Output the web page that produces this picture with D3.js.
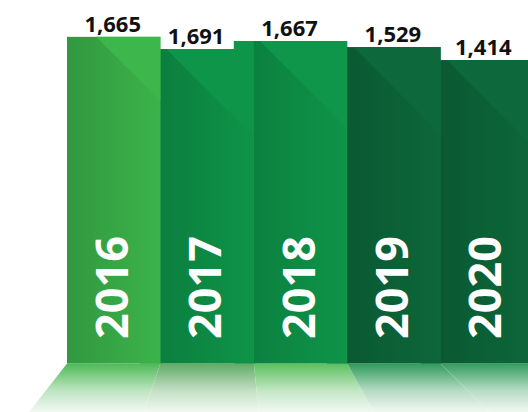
<!DOCTYPE html>
<html>
<head>
<meta charset="utf-8">
<script src="https://cdn.jsdelivr.net/npm/d3@7"></script>
<style>
  html, body { margin: 0; padding: 0; background: #ffffff; }
  svg { display: block; }
</style>
</head>
<body>
<svg id="chart" width="528" height="412"></svg>
<script>
// ---- data ----
const years = ["2016", "2017", "2018", "2019", "2020"];
const values = [1665, 1691, 1667, 1529, 1414];
const valueLabels = ["1,665", "1,691", "1,667", "1,529", "1,414"];
// drawn bar levels (the infographic's bars are not to scale with their labels)
const barLevels = [1665, 1603, 1644, 1613, 1547];

// ---- styles ----
const lightColors = ["#3db64b", "#0f954a", "#0f964a", "#0d693b", "#0d693b"];
const darkColors  = ["#31983f", "#0b7f3e", "#0b813f", "#0a5932", "#0a5932"];
const reflectColors = ["#4cba56", "#5fab63", "#5bbf5f", "#2f9a5c", "#329c5f"];

const W = 528, H = 412;
const svg = d3.select("#chart");
const defs = svg.append("defs");

const x = d3.scaleBand().domain(years).range([67, 534]).padding(0);
const y = d3.scaleLinear().domain([0, 1700]).range([363.5, 30]);
const floorTop = y(0), floorBottom = H;

// perspective of the floor reflection
const vx = 232, spread = 1.23;
const px = v => vx + (v - vx) * spread;

const data = years.map((yr, i) => ({
  yr, i, value: values[i], label: valueLabels[i], level: barLevels[i]
}));

// gradients
data.forEach(d => {
  const g = defs.append("linearGradient").attr("id", "bar" + d.i)
    .attr("x1", 0).attr("x2", 1).attr("y1", 0).attr("y2", 0);
  g.append("stop").attr("offset", "0%").attr("stop-color", darkColors[d.i]);
  g.append("stop").attr("offset", "100%").attr("stop-color", d3.interpolateRgb(darkColors[d.i], lightColors[d.i])(0.9));

  const r = defs.append("linearGradient").attr("id", "ref" + d.i)
    .attr("x1", 0).attr("x2", 0).attr("y1", 0).attr("y2", 1);
  r.append("stop").attr("offset", "0%").attr("stop-color", reflectColors[d.i]);
  r.append("stop").attr("offset", "55%").attr("stop-color", d3.interpolateRgb(reflectColors[d.i], "#f2f8f2")(0.68));
  r.append("stop").attr("offset", "100%").attr("stop-color", "#f2f8f2");
});

// floor reflections
svg.append("g").selectAll("path").data(data).join("path")
  .attr("d", d => {
    const x0 = x(d.yr), x1 = x(d.yr) + x.bandwidth();
    return `M${x0},${floorTop}L${x1},${floorTop}L${px(x1)},${floorBottom}L${px(x0)},${floorBottom}Z`;
  })
  .attr("fill", d => `url(#ref${d.i})`);

// bars drawn right to left; each later bar has a flat strip tucked behind its left neighbour
const ext = 20;
const extOf = d => Math.min(ext, x(d.yr) - x.range()[0]);
const bars = svg.append("g");
data.slice().reverse().forEach(d => {
  const x0 = x(d.yr), x1 = x0 + x.bandwidth(), top = y(d.level);
  const e = extOf(d);
  if (e > 0) {
    bars.append("rect").attr("x", x0 - e).attr("y", top)
      .attr("width", e + 1).attr("height", floorTop - top)
      .attr("fill", lightColors[d.i]);
  }
  bars.append("rect").attr("x", x0).attr("y", top)
    .attr("width", x1 - x0).attr("height", floorTop - top)
    .attr("fill", `url(#bar${d.i})`);
  const off = d.i === 0 ? 29 : 6;
  const a = x0 + off;
  bars.append("path")
    .attr("d", `M${a},${top}L${x1},${top}L${x1},${top + (x1 - a)}Z`)
    .attr("fill", lightColors[d.i]);
});

// visible top face of each bar -> label centre
function faceCentre(d) {
  const x0 = x(d.yr), x1 = x0 + x.bandwidth();
  const prev = data[d.i - 1], next = data[d.i + 1];
  const left = (prev && prev.level < d.level) ? x0 - extOf(d) : x0;
  const right = (next && next.level > d.level) ? x1 - extOf(next) : Math.min(x1, W);
  return (left + right) / 2;
}

svg.append("g").selectAll("text").data(data).join("text")
  .attr("x", d => faceCentre(d) - 1)
  .attr("y", d => y(d.level) - 5)
  .attr("text-anchor", "middle")
  .attr("font-family", "'Open Sans', sans-serif")
  .attr("font-weight", 700)
  .attr("font-size", 22)
  .attr("fill", "#111111")
  .text(d => d.label);

// year labels (rotated)
svg.append("g").selectAll("text").data(data).join("text")
  .attr("transform", d => `translate(${x(d.yr) + x.bandwidth() / 2 - 2},339) rotate(-90)`)
  .attr("dy", "0.357em")
  .attr("text-anchor", "start")
  .attr("font-family", "'Open Sans', sans-serif")
  .attr("font-weight", 700)
  .attr("font-size", 45)
  .attr("fill", "#ffffff")
  .text(d => d.yr);
</script>
</body>
</html>
